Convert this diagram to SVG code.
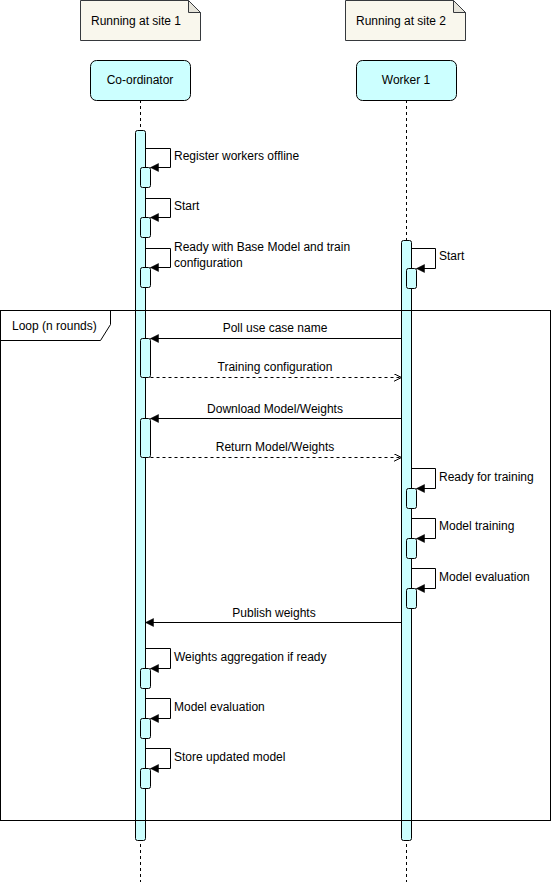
<svg xmlns="http://www.w3.org/2000/svg" width="552" height="882" viewBox="0 0 552 882">
  <style>
    text { font-family: "Liberation Sans", Arial, sans-serif; font-size: 12px; fill: #000; }
    .note { fill: #f9f7ed; stroke: #36393d; stroke-width: 1; }
    .fold { fill: #e6e4da; stroke: #36393d; stroke-width: 1; }
    .actor { fill: #ccffff; stroke: #000; stroke-width: 1; }
    .life { stroke: #000; stroke-width: 1; stroke-dasharray: 3 3; fill: none; }
    .bar { fill: #ccffff; stroke: #000; stroke-width: 1; }
    .msg { stroke: #000; stroke-width: 1; fill: none; }
    .ret { stroke: #000; stroke-width: 1; fill: none; stroke-dasharray: 3 3; }
    .frame { fill: none; stroke: #000; stroke-width: 1; }
    .mid { text-anchor: middle; }
  </style>
  <defs>
    <marker id="solid" markerWidth="10" markerHeight="10" refX="8" refY="4" orient="auto" markerUnits="userSpaceOnUse">
      <path d="M0,0 L8,4 L0,8 Z" fill="#000" stroke="#000" stroke-width="0.5"/>
    </marker>
    <marker id="open" markerWidth="12" markerHeight="12" refX="8" refY="4" orient="auto" markerUnits="userSpaceOnUse">
      <path d="M0,0 L8,4 L0,8" fill="none" stroke="#000" stroke-width="1"/>
    </marker>
  </defs>

  <!-- site notes -->
  <g id="note-site1">
    <path class="note" d="M80.5,0.5 H188.5 L200.5,12.5 V40.5 H80.5 Z"/>
    <path class="fold" d="M188.5,0.5 V12.5 H200.5 Z"/>
    <text x="136" y="25" class="mid">Running at site 1</text>
  </g>
  <g id="note-site2">
    <path class="note" d="M345.5,0.5 H453.5 L465.5,12.5 V40.5 H345.5 Z"/>
    <path class="fold" d="M453.5,0.5 V12.5 H465.5 Z"/>
    <text x="401" y="25" class="mid">Running at site 2</text>
  </g>

  <!-- participants with lifelines -->
  <g id="coordinator">
    <line class="life" x1="140.5" y1="100" x2="140.5" y2="882"/>
    <rect class="actor" x="90.5" y="60.5" width="100" height="40" rx="6"/>
    <text x="140" y="84" class="mid">Co-ordinator</text>
    <rect class="bar" x="135.5" y="130.5" width="10" height="710" rx="2"/>
  </g>
  <g id="worker1">
    <line class="life" x1="406.5" y1="100" x2="406.5" y2="882"/>
    <rect class="actor" x="356.5" y="60.5" width="100" height="40" rx="6"/>
    <text x="406" y="84" class="mid">Worker 1</text>
    <rect class="bar" x="401.5" y="240.5" width="10" height="600" rx="2"/>
  </g>

  <!-- loop frame -->
  <g id="loop-frame">
    <rect class="frame" x="0.5" y="310.5" width="550" height="510"/>
    <path class="frame" d="M0.5,340.5 H100.5 L110.5,324.5 V310.5"/>
    <text x="12" y="330">Loop (n rounds)</text>
  </g>

  <!-- activation boxes -->
  <g id="activations">
    <rect class="bar" x="140.5" y="167.5" width="10" height="20" rx="2"/>
    <rect class="bar" x="140.5" y="217.5" width="10" height="20" rx="2"/>
    <rect class="bar" x="140.5" y="267.5" width="10" height="20" rx="2"/>
    <rect class="bar" x="406.5" y="268.5" width="10" height="20" rx="2"/>
    <rect class="bar" x="140.5" y="338.5" width="10" height="39" rx="2"/>
    <rect class="bar" x="140.5" y="418.5" width="10" height="39" rx="2"/>
    <rect class="bar" x="406.5" y="488.5" width="10" height="20" rx="2"/>
    <rect class="bar" x="406.5" y="538.5" width="10" height="20" rx="2"/>
    <rect class="bar" x="406.5" y="588.5" width="10" height="20" rx="2"/>
    <rect class="bar" x="140.5" y="668.5" width="10" height="20" rx="2"/>
    <rect class="bar" x="140.5" y="718.5" width="10" height="20" rx="2"/>
    <rect class="bar" x="140.5" y="768.5" width="10" height="20" rx="2"/>
  </g>

  <!-- messages -->
  <g id="connectors">
    <path class="msg" marker-end="url(#solid)" d="M145.5,148.5 H170.5 V167.5 H150.5"/>
    <path class="msg" marker-end="url(#solid)" d="M145.5,198.5 H170.5 V217.5 H150.5"/>
    <path class="msg" marker-end="url(#solid)" d="M145.5,248.5 H170.5 V267.5 H150.5"/>
    <path class="msg" marker-end="url(#solid)" d="M411.5,248.5 H435.5 V268.5 H416.5"/>
    <path class="msg" marker-end="url(#solid)" d="M401.5,338.5 H150.5"/>
    <path class="ret" marker-end="url(#open)" d="M150.5,377.5 H401.5"/>
    <path class="msg" marker-end="url(#solid)" d="M401.5,418.5 H150.5"/>
    <path class="ret" marker-end="url(#open)" d="M150.5,457.5 H401.5"/>
    <path class="msg" marker-end="url(#solid)" d="M411.5,468.5 H435.5 V488.5 H416.5"/>
    <path class="msg" marker-end="url(#solid)" d="M411.5,518.5 H435.5 V538.5 H416.5"/>
    <path class="msg" marker-end="url(#solid)" d="M411.5,568.5 H435.5 V588.5 H416.5"/>
    <path class="msg" marker-end="url(#solid)" d="M401.5,622.5 H145.5"/>
    <path class="msg" marker-end="url(#solid)" d="M145.5,648.5 H170.5 V668.5 H150.5"/>
    <path class="msg" marker-end="url(#solid)" d="M145.5,698.5 H170.5 V718.5 H150.5"/>
    <path class="msg" marker-end="url(#solid)" d="M145.5,748.5 H170.5 V768.5 H150.5"/>
  </g>

  <!-- message labels -->
  <g id="labels">
    <text x="174" y="160">Register workers offline</text>
    <text x="174" y="210">Start</text>
    <text x="174" y="251">Ready with Base Model and train</text>
    <text x="174" y="267">configuration</text>
    <text x="439" y="260">Start</text>
    <text x="275" y="332" class="mid">Poll use case name</text>
    <text x="275" y="371" class="mid">Training configuration</text>
    <text x="275" y="413" class="mid">Download Model/Weights</text>
    <text x="275" y="451" class="mid">Return Model/Weights</text>
    <text x="439" y="481">Ready for training</text>
    <text x="439" y="530">Model training</text>
    <text x="439" y="581">Model evaluation</text>
    <text x="274" y="617" class="mid">Publish weights</text>
    <text x="174" y="661">Weights aggregation if ready</text>
    <text x="174" y="711">Model evaluation</text>
    <text x="174" y="761">Store updated model</text>
  </g>
</svg>
